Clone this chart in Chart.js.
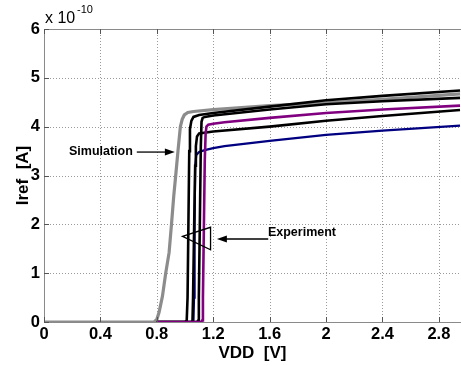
<!DOCTYPE html>
<html>
<head>
<meta charset="utf-8">
<script src="https://cdn.jsdelivr.net/npm/chart.js@4/dist/chart.umd.min.js"></script>
<style>
  html, body { margin: 0; padding: 0; background: #fff; }
  #wrap { width: 461px; height: 366px; position: relative; }
</style>
</head>
<body>
<div id="wrap"><canvas id="c" width="461" height="366"></canvas></div>
<script>
// ---- data (VDD in V, Iref in units of 1e-10 A) ----
const xTicks = [0, 0.4, 0.8, 1.2, 1.6, 2, 2.4, 2.8];
const yTicks = [0, 1, 2, 3, 4, 5, 6];

const simX = [0, 0.40, 0.78, 0.80, 0.816, 0.84, 0.863, 0.887, 0.904, 0.92, 0.934, 0.95, 0.967, 0.98, 0.995, 1.02, 1.06, 1.2, 1.6, 2.0, 2.4, 2.95];
const simY = [0, 0, 0, 0.05, 0.2, 0.53, 1.0, 1.42, 2.0, 2.58, 3.0, 3.5, 4.0, 4.15, 4.24, 4.29, 4.31, 4.35, 4.43, 4.49, 4.56, 4.67];

const expAX = [0.8, 1.0, 1.012, 1.018, 1.024, 1.03, 1.035, 1.045, 1.06, 1.1, 1.2, 1.6, 2.0, 2.4, 2.95];
const expAY = [0, 0, 0.03, 0.5, 2.0, 3.5, 3.95, 4.12, 4.2, 4.24, 4.28, 4.41, 4.54, 4.63, 4.74];

const expBX = [0.8, 1.045, 1.053, 1.057, 1.065, 1.072, 1.077, 1.085, 1.1, 1.2, 1.6, 2.0, 2.4, 2.95];
const expBY = [0, 0, 0.03, 0.5, 2.0, 3.2, 3.6, 3.8, 3.86, 3.9, 4.0, 4.12, 4.22, 4.34];

const expCX = [0.8, 1.085, 1.093, 1.098, 1.105, 1.112, 1.117, 1.125, 1.14, 1.2, 1.6, 2.0, 2.4, 2.95];
const expCY = [0, 0, 0.03, 0.5, 2.0, 3.6, 4.1, 4.18, 4.2, 4.23, 4.35, 4.46, 4.52, 4.59];

const expPX = [0.8, 1.115, 1.121, 1.127, 1.134, 1.14, 1.146, 1.152, 1.165, 1.2, 1.28, 1.6, 2.0, 2.4, 2.95];
const expPY = [0, 0, 0.03, 0.5, 2.0, 3.3, 3.85, 4.0, 4.04, 4.06, 4.09, 4.18, 4.28, 4.35, 4.43];

const expNX = [0.8, 1.055, 1.06, 1.064, 1.068, 1.072, 1.08, 1.1, 1.14, 1.2, 1.28, 1.6, 2.0, 2.4, 2.95];
const expNY = [0, 0, 0.03, 0.5, 2.0, 3.2, 3.42, 3.48, 3.52, 3.56, 3.6, 3.71, 3.83, 3.92, 4.02];

// annotation anchors (data units)
const simNote = { text: 'Simulation', textX: 0.63, textY: 3.50, arrowFrom: 0.658, arrowTo: 0.928, arrowY: 3.48 };
const expNote = { text: 'Experiment', textX: 1.588, textY: 1.84, arrowFrom: 1.59, arrowTo: 1.226, arrowY: 1.70 };
const expWedge = [[0.982, 1.755], [1.181, 1.94], [1.181, 1.48]];

const pts = (xs, ys) => xs.map((x, i) => ({ x: x, y: ys[i] }));

const FONT = "'Liberation Sans', Arial, sans-serif";

function ds(label, xs, ys, color, width, order) {
  return { label, data: pts(xs, ys), borderColor: color, backgroundColor: color,
           borderWidth: width, pointRadius: 0, tension: 0, fill: false, order };
}

const overlay = {
  id: 'overlay',
  beforeDatasetsDraw(chart) {
    // dotted grid (drawn from the scales)
    const { ctx, chartArea: a, scales: { x, y } } = chart;
    ctx.save();
    ctx.strokeStyle = '#9a9a9a';
    ctx.lineWidth = 1;
    ctx.setLineDash([1, 2]);
    ctx.beginPath();
    xTicks.forEach(v => { if (v === 0) return; const px = Math.round(x.getPixelForValue(v)) + 0.5; ctx.moveTo(px, a.top); ctx.lineTo(px, a.bottom); });
    yTicks.forEach(v => { if (v === 0 || v === 6) return; const py = Math.round(y.getPixelForValue(v)) + 0.5; ctx.moveTo(a.left, py); ctx.lineTo(a.right, py); });
    ctx.stroke();
    ctx.restore();
  },
  afterDraw(chart) {
    const { ctx, chartArea: a, scales: { x, y } } = chart;
    ctx.save();
    // top border
    ctx.strokeStyle = '#8a8a8a';
    ctx.lineWidth = 1;
    ctx.beginPath();
    ctx.moveTo(a.left, a.top + 0.5); ctx.lineTo(a.right, a.top + 0.5);
    ctx.stroke();
    // inner ticks
    ctx.strokeStyle = '#555';
    ctx.beginPath();
    yTicks.forEach(v => { const py = Math.round(y.getPixelForValue(v)) + 0.5; ctx.moveTo(a.left, py); ctx.lineTo(a.left + 5, py); });
    xTicks.forEach(v => { const px = Math.round(x.getPixelForValue(v)) + 0.5;
      ctx.moveTo(px, a.bottom); ctx.lineTo(px, a.bottom - 5);
      ctx.moveTo(px, a.top); ctx.lineTo(px, a.top + 5); });
    ctx.stroke();

    // exponent label
    ctx.fillStyle = '#000';
    ctx.textBaseline = 'middle';
    ctx.textAlign = 'left';
    ctx.font = '16px ' + FONT;
    ctx.fillText('x 10', 45, 19);
    ctx.font = '11px ' + FONT;
    ctx.fillText('-10', 77, 9.5);

    // annotations
    ctx.font = 'bold 12.5px ' + FONT;
    ctx.textAlign = 'right';
    ctx.fillText(simNote.text, x.getPixelForValue(simNote.textX), y.getPixelForValue(simNote.textY));
    ctx.textAlign = 'left';
    ctx.fillText(expNote.text, x.getPixelForValue(expNote.textX), y.getPixelForValue(expNote.textY));

    function arrow(x0, x1, yy) {
      const px0 = x.getPixelForValue(x0), px1 = x.getPixelForValue(x1), py = y.getPixelForValue(yy);
      const dir = Math.sign(px1 - px0);
      ctx.strokeStyle = '#000'; ctx.lineWidth = 1.3;
      ctx.beginPath(); ctx.moveTo(px0, py); ctx.lineTo(px1 - dir * 8, py); ctx.stroke();
      ctx.beginPath();
      ctx.moveTo(px1, py);
      ctx.lineTo(px1 - dir * 10, py - 3.5);
      ctx.lineTo(px1 - dir * 10, py + 3.5);
      ctx.closePath(); ctx.fill();
    }
    arrow(simNote.arrowFrom, simNote.arrowTo, simNote.arrowY);
    arrow(expNote.arrowFrom, expNote.arrowTo, expNote.arrowY);

    ctx.strokeStyle = '#000'; ctx.lineWidth = 1.3;
    ctx.beginPath();
    expWedge.forEach((p, i) => {
      const px = x.getPixelForValue(p[0]), py = y.getPixelForValue(p[1]);
      if (i === 0) ctx.moveTo(px, py); else ctx.lineTo(px, py);
    });
    ctx.closePath();
    ctx.stroke();
    ctx.restore();
  }
};

new Chart(document.getElementById('c'), {
  type: 'line',
  data: {
    datasets: [
      ds('Experiment (purple)', expPX, expPY, '#800080', 2.6, 1),
      ds('Experiment C', expCX, expCY, '#000000', 2.6, 2),
      ds('Experiment A', expAX, expAY, '#000000', 2.6, 3),
      ds('Experiment B', expBX, expBY, '#000000', 2.6, 4),
      ds('Experiment (blue)', expNX, expNY, '#000080', 2.2, 5),
      ds('Simulation', simX, simY, '#8c8c8c', 3.2, 6)
    ]
  },
  options: {
    responsive: false,
    animation: false,
    events: [],
    layout: { padding: { top: 29, right: 0, left: 0, bottom: 0 } },
    plugins: { legend: { display: false }, tooltip: { enabled: false } },
    scales: {
      x: {
        type: 'linear', min: 0, max: 2.957,
        afterFit: s => { s.height = 44; },
        afterBuildTicks: s => { s.ticks = xTicks.map(v => ({ value: v })); },
        ticks: { includeBounds: false, padding: 4, color: '#000',
                 font: { family: FONT, size: 16.5, weight: 'bold', lineHeight: 1 },
                 callback: v => String(v), maxRotation: 0, autoSkip: false },
        grid: { display: true, color: 'rgba(0,0,0,0)', drawTicks: false },
        border: { display: true, color: '#8a8a8a', width: 1 },
        title: { display: true, text: 'VDD  [V]', color: '#000',
                 font: { family: FONT, size: 17, weight: 'bold', lineHeight: 1 },
                 padding: { top: 0, bottom: 4.5 } }
      },
      y: {
        type: 'linear', min: 0, max: 6,
        afterFit: s => { s.width = 44; },
        afterBuildTicks: s => { s.ticks = yTicks.map(v => ({ value: v })); },
        ticks: { padding: 4, color: '#000',
                 font: { family: FONT, size: 16.5, weight: 'bold', lineHeight: 1 },
                 callback: v => String(v) },
        grid: { display: true, color: 'rgba(0,0,0,0)', drawTicks: false },
        border: { display: true, color: '#8a8a8a', width: 1 },
        title: { display: true, text: 'Iref  [A]', color: '#000',
                 font: { family: FONT, size: 17, weight: 'bold', lineHeight: 1 },
                 padding: { top: 14.5, bottom: 0 } }
      }
    }
  },
  plugins: [overlay]
});
</script>
</body>
</html>
